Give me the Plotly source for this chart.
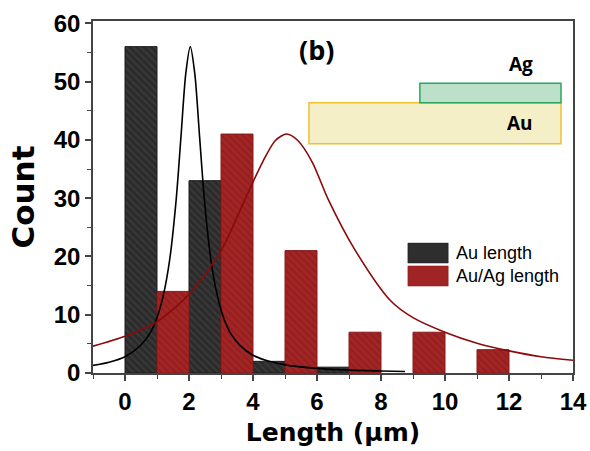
import plotly.graph_objects as go

# ---- data ----
au_bin_start = [0, 2, 4, 6]
au_counts = [56, 33, 2, 1]
auag_bin_start = [1, 3, 5, 7, 9, 11]
auag_counts = [14, 41, 21, 7, 7, 4]
bin_width = 1

au_fit_x = [-1, -0.5, 0, 0.5, 0.8, 1.0, 1.2, 1.4, 1.6, 1.75, 1.9, 2.04, 2.18, 2.33,
            2.48, 2.68, 2.88, 3.08, 3.3, 3.6, 4.0, 4.5, 5.0, 6.0, 7.0, 8.0, 8.75]
au_fit_y = [1.3, 1.85, 2.8, 4.8, 7.0, 9.5, 13.4, 19.6, 29.8, 40.6, 51.4, 56, 51.4, 40.6,
            29.8, 19.6, 13.4, 9.5, 6.8, 4.7, 3.05, 2.0, 1.4, 0.8, 0.5, 0.35, 0.27]

auag_fit_x = [-1, 0, 1, 2, 3, 3.75, 4.3, 4.7, 5.05, 5.4, 5.85, 6.35, 7.2, 8.3,
              9, 10, 11, 12, 13, 14]
auag_fit_y = [4.6, 6.3, 8.8, 13.5, 21, 29.8, 36.2, 39.9, 41, 39.9, 36.2, 29.8, 21, 12.4,
              9.5, 7.0, 5.1, 3.8, 2.8, 2.2]

x_ticks = [0, 2, 4, 6, 8, 10, 12, 14]
y_ticks = [0, 10, 20, 30, 40, 50, 60]
legend_labels = ["Au length", "Au/Ag length"]

fig = go.Figure()

fig.add_trace(go.Bar(
    x=au_bin_start, y=au_counts, width=bin_width, offset=0,
    name=legend_labels[0],
    marker=dict(color="#2b2b2b",
                line=dict(color="#1a1a1a", width=1),
                pattern=dict(shape="\\", fgcolor="#4a4a4a", bgcolor="#2b2b2b",
                             size=5, solidity=0.35)),
    showlegend=False,
))
fig.add_trace(go.Bar(
    x=auag_bin_start, y=auag_counts, width=bin_width, offset=0,
    name=legend_labels[1],
    marker=dict(color="#9e2222",
                line=dict(color="#8a1a1a", width=1),
                pattern=dict(shape="\\", fgcolor="#861616", bgcolor="#a12525",
                             size=5, solidity=0.35)),
    showlegend=False,
))
fig.add_trace(go.Scatter(
    x=au_fit_x, y=au_fit_y, mode="lines",
    line=dict(color="black", width=1.6, shape="spline", smoothing=0.8),
    showlegend=False, hoverinfo="skip",
))
fig.add_trace(go.Scatter(
    x=auag_fit_x, y=auag_fit_y, mode="lines",
    line=dict(color="#8b0a0a", width=1.6, shape="spline", smoothing=0.8),
    showlegend=False, hoverinfo="skip",
))

axis_common = dict(
    showline=True, linecolor="#444444", linewidth=1.5, mirror=True,
    ticks="outside", ticklen=6, tickwidth=1.5, tickcolor="#444444",
    showgrid=False, zeroline=False, automargin=False,
    tickfont=dict(family="Liberation Sans, Arial", size=24, color="black", weight="bold"),
)

fig.update_layout(
    width=590, height=451,
    margin=dict(l=93, r=17, t=21, b=78),
    paper_bgcolor="white", plot_bgcolor="white",
    barmode="overlay",
    xaxis=dict(range=[-1, 14], tickvals=x_ticks,
               minor=dict(dtick=1, ticks="outside", ticklen=4, tickwidth=1.2, tickcolor="#444444"),
               title=dict(text="Length (μm)", standoff=10,
                          font=dict(family="DejaVu Sans", size=25, color="black", weight="bold")),
               **axis_common),
    yaxis=dict(range=[0, 60.4], tickvals=y_ticks,
               minor=dict(dtick=5, ticks="outside", ticklen=4, tickwidth=1.2, tickcolor="#444444"),
               title=dict(text="Count", standoff=10,
                          font=dict(family="DejaVu Sans", size=31, color="black", weight="bold")),
               **axis_common),
    showlegend=False,
)

# inset schematic (Au rod with Ag segment)
fig.add_shape(type="rect", xref="paper", yref="paper", x0=0.45, x1=0.975, y0=0.651, y1=0.768,
              line=dict(color="#f0c030", width=1.5), fillcolor="#f4efc6", layer="above")
fig.add_shape(type="rect", xref="paper", yref="paper", x0=0.681, x1=0.975, y0=0.768, y1=0.823,
              line=dict(color="#2aa65e", width=1.5), fillcolor="#bde0cb", layer="above")
fig.add_annotation(xref="paper", yref="paper", x=0.465, y=0.918, xanchor="center", yanchor="middle",
                   text="<b>(b)</b>", showarrow=False,
                   font=dict(family="Open Sans", size=27, color="black"))
fig.add_annotation(xref="paper", yref="paper", x=0.892, y=0.878, xanchor="center", yanchor="middle",
                   text="<b>Ag</b>", showarrow=False,
                   font=dict(family="Open Sans", size=19, color="black"))
fig.add_annotation(xref="paper", yref="paper", x=0.89, y=0.71, xanchor="center", yanchor="middle",
                   text="<b>Au</b>", showarrow=False,
                   font=dict(family="Open Sans", size=19, color="black"))

# legend (drawn manually to match wide swatches)
fig.add_shape(type="rect", xref="paper", yref="paper", x0=0.656, x1=0.74, y0=0.3125, y1=0.369,
              line=dict(color="#1a1a1a", width=0.5), fillcolor="#2e2e2e", layer="above")
fig.add_shape(type="rect", xref="paper", yref="paper", x0=0.656, x1=0.74, y0=0.247, y1=0.304,
              line=dict(color="#8a1a1a", width=0.5), fillcolor="#a02424", layer="above")
fig.add_annotation(xref="paper", yref="paper", x=0.752, y=0.341, xanchor="left", yanchor="middle",
                   text=legend_labels[0], showarrow=False,
                   font=dict(family="Liberation Sans, Arial", size=18, color="black"))
fig.add_annotation(xref="paper", yref="paper", x=0.752, y=0.276, xanchor="left", yanchor="middle",
                   text=legend_labels[1], showarrow=False,
                   font=dict(family="Liberation Sans, Arial", size=18, color="black"))

fig.write_html("out.html", config={"displayModeBar": False},
               post_script="document.body.style.margin='0px';document.body.style.overflow='hidden';")
